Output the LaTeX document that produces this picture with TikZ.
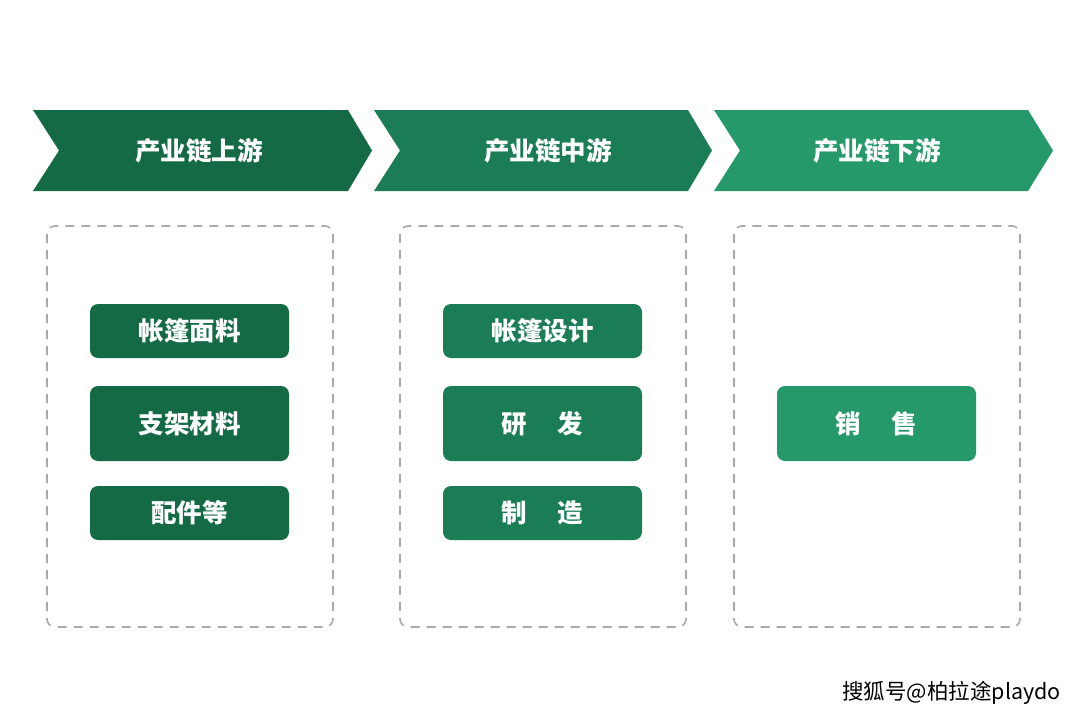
\documentclass[tikz,border=0pt]{standalone}
\usepackage{fontspec}
\newfontfamily\cjk{Noto Sans CJK SC}
\definecolor{gA}{HTML}{136A45}
\definecolor{gB}{HTML}{1B7D55}
\definecolor{gC}{HTML}{26996B}
\definecolor{dashgray}{HTML}{AAAAAA}
\begin{document}
\begin{tikzpicture}[x=1pt,y=-1pt,
  headtext/.style={text=white,font=\cjk\bfseries\fontsize{25.5}{28}\selectfont},
  stage/.style={draw=dashgray,line width=1.6pt,dash pattern=on 9pt off 7pt,rounded corners=8pt},
  item/.style={text=white,font=\cjk\bfseries\fontsize{25.5}{28}\selectfont,inner sep=0pt},
  itembox/.style={rounded corners=8pt},
]
\useasboundingbox (0,0) rectangle (1080,720);
\fill[white] (0,0) rectangle (1080,720);
% chevrons
\fill[gA] (33,110) -- (348,110) -- (372,150.5) -- (348,191) -- (33,191) -- (59,150.5) -- cycle;
\fill[gB] (374,110) -- (688,110) -- (712,150.5) -- (688,191) -- (374,191) -- (400,150.5) -- cycle;
\fill[gC] (714,110) -- (1028,110) -- (1053,150.5) -- (1028,191) -- (714,191) -- (740,150.5) -- cycle;
\node[headtext] (h1) at (199,151) {产业链上游};
\node[headtext] (h2) at (548,151) {产业链中游};
\node[headtext] (h3) at (877,151) {产业链下游};
% dashed stage boxes
\draw[stage] (47,226) rectangle (333,627);
\draw[stage] (400,226) rectangle (686,627);
\draw[stage] (734,226) rectangle (1020,627);
% column 1
\fill[gA,itembox] (90,304) rectangle (289,358);
\node[item] (a1) at (189.5,331) {帐篷面料};
\fill[gA,itembox] (90,386) rectangle (289,461);
\node[item] (a2) at (189.5,423.5) {支架材料};
\fill[gA,itembox] (90,486) rectangle (289,540);
\node[item] (a3) at (189.5,513) {配件等};
% column 2
\fill[gB,itembox] (443,304) rectangle (642,358);
\node[item] (b1) at (542.5,331) {帐篷设计};
\fill[gB,itembox] (443,386) rectangle (642,461);
\node[item] (b2) at (542.5,423.5) {研\hspace{1.2em}发};
\fill[gB,itembox] (443,486) rectangle (642,540);
\node[item] (b3) at (542.5,513) {制\hspace{1.2em}造};
% column 3
\fill[gC,itembox] (777,386) rectangle (976,461);
\node[item] (c1) at (876.5,423.5) {销\hspace{1.2em}售};
% watermark
\node[anchor=east,text=black,font=\cjk\fontsize{21.5}{24}\selectfont,inner sep=0pt] (wm) at (1061,693) {搜狐号@柏拉途playdo};
\end{tikzpicture}
\end{document}
